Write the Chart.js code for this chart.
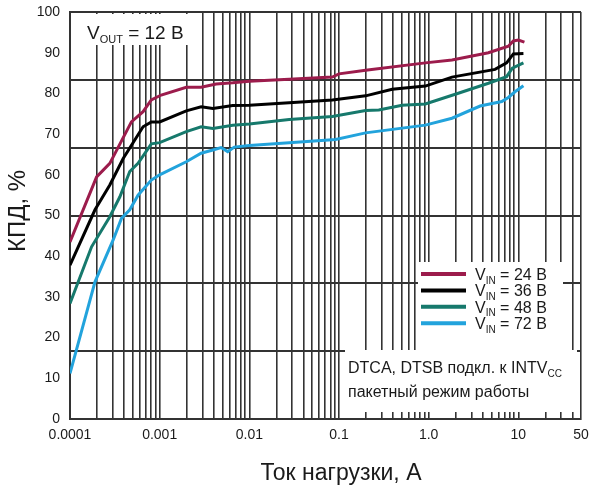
<!DOCTYPE html>
<html>
<head>
<meta charset="utf-8">
<script src="https://cdn.jsdelivr.net/npm/chart.js@4.4.0/dist/chart.umd.min.js"></script>
<style>
  html, body { margin: 0; padding: 0; background: #fff; }
</style>
</head>
<body>
<canvas id="effChart" width="591" height="490"></canvas>
<script>
// Load current, A (log axis) and efficiency, % for each input voltage
const vinText = ['24 В', '36 В', '48 В', '72 В'];
const seriesColors = ['#9c1c4c', '#000000', '#16796c', '#22a3dc'];

const vin24X = [0.0001, 0.000198, 0.000278, 0.000484, 0.000653, 0.000807, 0.00104, 0.00198, 0.0029, 0.00427, 0.00653, 0.01, 0.0278, 0.0843, 0.1, 0.198, 0.918, 1.82, 4.64, 7.74, 8.8, 10, 11.7];
const vin24Y = [43.5, 59.5, 62.8, 73.0, 75.5, 78.4, 79.6, 81.5, 81.5, 82.3, 82.6, 83.0, 83.5, 84.0, 84.8, 85.7, 87.5, 88.2, 90.0, 91.6, 92.9, 93.1, 92.6];

const vin36X = [0.0001, 0.000119, 0.00019, 0.000278, 0.000392, 0.000653, 0.000807, 0.001, 0.00198, 0.0029, 0.00392, 0.00653, 0.01, 0.0278, 0.0843, 0.198, 0.392, 0.918, 1.82, 5.5, 7.4, 8.8, 11.4];
const vin36Y = [37.8, 41.5, 51.4, 57.5, 64.0, 71.8, 73.0, 73.0, 75.7, 76.7, 76.3, 77.0, 77.1, 77.7, 78.4, 79.4, 81.0, 81.8, 84.0, 85.9, 87.5, 89.7, 89.8];

const vin48X = [0.0001, 0.000174, 0.000278, 0.00036, 0.000464, 0.000574, 0.000807, 0.001, 0.00198, 0.0029, 0.00392, 0.00653, 0.01, 0.0278, 0.0843, 0.198, 0.278, 0.506, 0.918, 1.98, 4.64, 7.4, 8.58, 11.4];
const vin48Y = [28.4, 42.3, 49.7, 54.6, 60.8, 62.8, 67.6, 67.9, 70.6, 71.8, 71.4, 72.2, 72.5, 73.6, 74.3, 75.8, 75.9, 77.1, 77.4, 79.8, 82.5, 84.1, 86.2, 87.5];

const vin72X = [0.0001, 0.00019, 0.000303, 0.000375, 0.000464, 0.000574, 0.000807, 0.001, 0.00198, 0.0029, 0.00392, 0.00484, 0.00574, 0.0068, 0.01, 0.0278, 0.0918, 0.198, 0.918, 1.82, 3.75, 6.53, 7.74, 9.18, 11.4];
const vin72Y = [11.2, 33.7, 44.0, 49.3, 51.4, 55.0, 58.7, 60.0, 63.2, 65.3, 66.1, 66.7, 65.7, 66.8, 67.2, 67.9, 68.7, 70.3, 72.2, 73.9, 76.9, 78.0, 79.0, 80.4, 81.9];

// Tick labels on the current axis
const xLabelValues = [0.0001, 0.001, 0.01, 0.1, 1, 10, 50];
const xLabelText = ['0.0001', '0.001', '0.01', '0.1', '1.0', '10', '50'];
// Horizontal grid lines split the range in sixths
const yGridValues = [0, 100 / 6, 200 / 6, 50, 400 / 6, 500 / 6, 100];

const FONT = '"Liberation Sans", Arial, sans-serif';
const GRID = '#333333';
const TEXT = '#1a1a1a';

// vertical grid: 1..9 in every decade, then 20..50
const xGridValues = [];
for (let e = -4; e <= 0; e++) {
    for (let m = 1; m <= 9; m++) xGridValues.push(m * Math.pow(10, e));
}
xGridValues.push(10, 20, 30, 40, 50);

function toPoints(xs, ys) {
    return xs.map((x, i) => ({ x: x, y: ys[i] }));
}

function labelFor(v) {
    for (let i = 0; i < xLabelValues.length; i++) {
        if (Math.abs(v - xLabelValues[i]) / xLabelValues[i] < 1e-6) return xLabelText[i];
    }
    return '';
}

// text with a subscript part, e.g. V + OUT + " = 12 В"
function subText(ctx, x, y, main, sub, rest, size) {
    ctx.font = size + 'px ' + FONT;
    ctx.fillText(main, x, y);
    x += ctx.measureText(main).width;
    ctx.font = Math.round(size * 0.6) + 'px ' + FONT;
    ctx.fillText(sub, x, y + size * 0.22);
    x += ctx.measureText(sub).width;
    ctx.font = size + 'px ' + FONT;
    ctx.fillText(rest, x, y);
}

const annotations = {
    id: 'annotations',
    afterDraw(chart) {
        const ctx = chart.ctx;
        const a = chart.chartArea;
        ctx.save();

        // Vout box
        ctx.fillStyle = '#fff';
        ctx.fillRect(a.left + 2, a.top + 2, 130, 31);
        // legend box + note box
        ctx.fillRect(a.left + 348, a.top + 250, 145, 90);
        ctx.fillRect(a.left + 275, a.top + 338, 232, 62);

        ctx.fillStyle = TEXT;
        ctx.textBaseline = 'alphabetic';
        ctx.textAlign = 'left';
        subText(ctx, a.left + 17, a.top + 27, 'V', 'OUT', ' = 12 В', 19);

        // legend
        chart.data.datasets.forEach((ds, i) => {
            const y = a.top + 262 + i * 16.4;
            ctx.strokeStyle = ds.borderColor;
            ctx.lineWidth = 4;
            ctx.beginPath();
            ctx.moveTo(a.left + 351, y);
            ctx.lineTo(a.left + 396, y);
            ctx.stroke();
            ctx.fillStyle = TEXT;
            subText(ctx, a.left + 405, y + 6, 'V', 'IN', ' = ' + vinText[i], 16);
        });

        // note
        subText(ctx, a.left + 278, a.top + 361, 'DTCA, DTSB подкл. к INTV', 'CC', '', 16);
        ctx.font = '16px ' + FONT;
        ctx.fillText('пакетный режим работы', a.left + 278, a.top + 385);

        // axis titles
        ctx.font = '23px ' + FONT;
        ctx.textAlign = 'center';
        ctx.textBaseline = 'middle';
        ctx.fillText('Ток нагрузки, А', 341, 474);
        ctx.translate(18, 211);
        ctx.rotate(-Math.PI / 2);
        ctx.font = '24px ' + FONT;
        ctx.fillText('КПД, %', 0, 0);
        ctx.restore();
    }
};

const datasets = [
    toPoints(vin24X, vin24Y),
    toPoints(vin36X, vin36Y),
    toPoints(vin48X, vin48Y),
    toPoints(vin72X, vin72Y)
].map((pts, i) => ({
    label: 'VIN = ' + vinText[i],
    data: pts,
    borderColor: seriesColors[i],
    backgroundColor: seriesColors[i],
    borderWidth: 3,
    pointRadius: 0,
    tension: 0,
    fill: false
}));

new Chart(document.getElementById('effChart'), {
    type: 'line',
    data: { datasets: datasets },
    options: {
        responsive: false,
        animation: false,
        devicePixelRatio: 1,
        layout: { padding: { left: 0, top: 12, right: 10, bottom: 0 } },
        plugins: {
            legend: { display: false },
            tooltip: { enabled: false }
        },
        scales: {
            x: {
                type: 'logarithmic',
                min: 0.0001,
                max: 50,
                afterBuildTicks(scale) {
                    scale.ticks = xGridValues.map(v => ({ value: v }));
                },
                afterFit(scale) {
                    scale.height = 71;
                    scale.paddingLeft = 0;
                    scale.paddingRight = 0;
                },
                grid: { color: GRID, lineWidth: 1.6, drawTicks: false },
                border: { display: true, color: GRID, width: 2 },
                ticks: {
                    autoSkip: false,
                    maxRotation: 0,
                    padding: 8,
                    color: TEXT,
                    font: { family: FONT, size: 14 },
                    callback: (v) => labelFor(v)
                }
            },
            y: {
                min: 0,
                max: 100,
                position: 'left',
                afterFit(scale) {
                    scale.width = 70;
                    scale.paddingTop = 0;
                    scale.paddingBottom = 0;
                },
                grid: { display: false, drawTicks: false },
                border: { display: true, color: GRID, width: 2 },
                ticks: {
                    stepSize: 10,
                    padding: 10,
                    color: TEXT,
                    font: { family: FONT, size: 14 }
                }
            },
            y2: {
                min: 0,
                max: 100,
                position: 'left',
                afterBuildTicks(scale) {
                    scale.ticks = yGridValues.map(v => ({ value: v }));
                },
                afterFit(scale) {
                    scale.width = 0;
                    scale.paddingTop = 0;
                    scale.paddingBottom = 0;
                },
                grid: { color: GRID, lineWidth: 2, drawTicks: false },
                border: { display: false },
                ticks: { display: false }
            }
        }
    },
    plugins: [annotations]
});
</script>
</body>
</html>
